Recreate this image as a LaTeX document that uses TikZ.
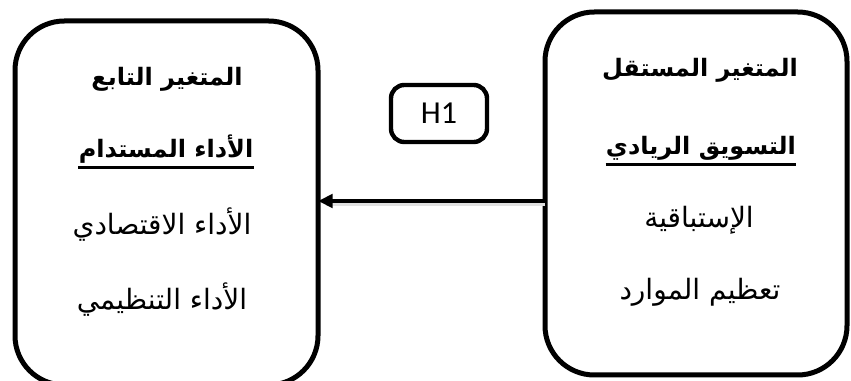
\documentclass[tikz,border=0pt]{standalone}
\usepackage{fontspec}
\TeXXeTstate=1
\newfontfamily\arabicfont[Script=Arabic]{DejaVu Sans}
\newfontfamily\latinfont{Carlito}
\usetikzlibrary{arrows.meta}
\begin{document}
\begin{tikzpicture}[x=0.75pt,y=-0.75pt,
  bigbox/.style={draw, line width=3.75pt, rounded corners=37pt, inner sep=0pt, outer sep=0pt},
  hbox/.style={draw, line width=3.3pt, rounded corners=10pt, minimum width=72pt, minimum height=42.75pt, inner sep=0pt, outer sep=0pt, font=\latinfont\fontsize{24}{28}\selectfont},
  ar/.style={font=\arabicfont\fontsize{21}{24}\selectfont, inner sep=0pt, anchor=base},
  arb/.style={ar, font=\arabicfont\bfseries\fontsize{18}{22}\selectfont},
  ul/.style={line width=2.2pt},
  conn/.style={line width=3.3pt, -{Triangle[length=11pt,width=10pt]}},
  shade/.style={line width=2.5pt, black!12}
]
\useasboundingbox (0,0) rectangle (851,381);
\node[bigbox, minimum width=227.25pt, minimum height=273pt] (L) at (166.5,203) {};
\node[bigbox, minimum width=226.5pt, minimum height=272.25pt] (R) at (696,193.5) {};
\node[hbox] (H) at (439,113.5) {H1};
% left box texts
\node[arb] (l1) at (167,86) {\beginR المتغير التابع\endR};
\node[arb] (l2) at (166,158) {\beginR الأداء المستدام\endR};
\node[ar] (l3) at (162,235) {\beginR الأداء الاقتصادي\endR};
\node[ar] (l4) at (162,310) {\beginR الأداء التنظيمي\endR};
% right box texts
\node[arb] (r1) at (700,77) {\beginR المتغير المستقل\endR};
\node[arb] (r2) at (701,155) {\beginR التسويق الريادي\endR};
\node[ar] (r3) at (699,228) {\beginR الإستباقية\endR};
\node[ar] (r4) at (700,300) {\beginR تعظيم الموارد\endR};
% underlines
\draw[ul] ([yshift=-7pt]l2.base west) -- ([yshift=-7pt]l2.base east);
\draw[ul] ([yshift=-7pt]r2.base west) -- ([yshift=-7pt]r2.base east);
% connector
\coordinate (a) at (0,201);
\coordinate (as) at (0,204);
\draw[shade] (R.west |- as) -- ([xshift=6pt]L.east |- as);
\draw[conn] (R.west |- a) -- (L.east |- a);
\end{tikzpicture}
\end{document}
